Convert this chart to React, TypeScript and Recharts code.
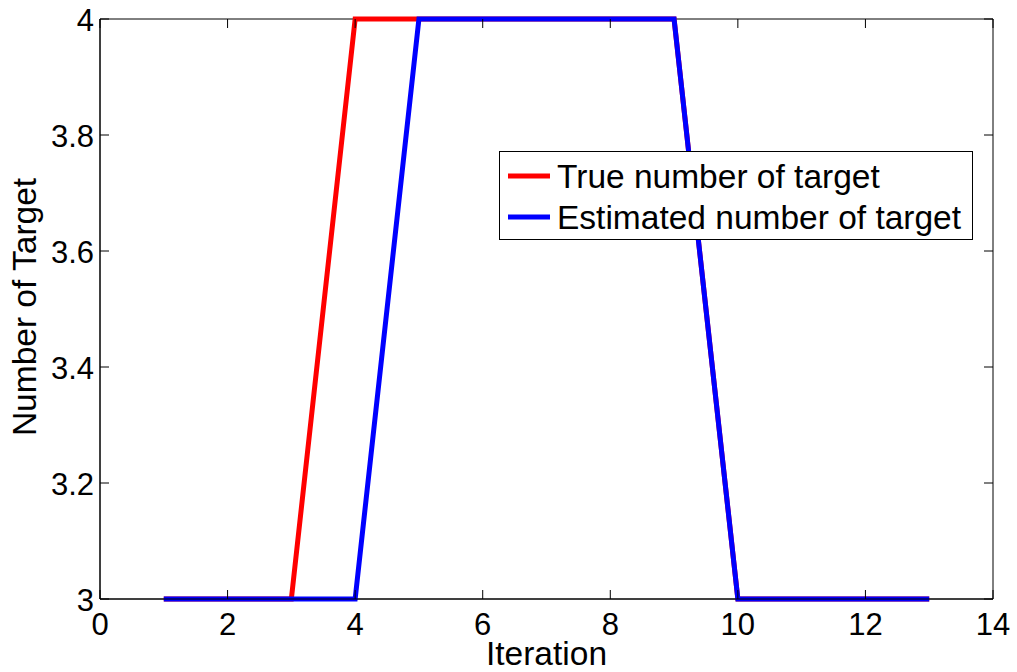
import React from "react";
import {
  Label,
  Line,
  LineChart,
  ReferenceArea,
  XAxis,
  YAxis,
} from "recharts";

const iterations = [1, 2, 3, 4, 5, 6, 7, 8, 9, 10, 11, 12, 13];
const trueCount = [3, 3, 3, 4, 4, 4, 4, 4, 4, 3, 3, 3, 3];
const estimatedCount = [3, 3, 3, 3, 4, 4, 4, 4, 4, 3, 3, 3, 3];

const xTicks = [0, 2, 4, 6, 8, 10, 12, 14];
const yTicks = [3, 3.2, 3.4, 3.6, 3.8, 4];

const seriesNames = ["True number of target", "Estimated number of target"];
const seriesColors = ["#ff0000", "#0000ff"];

const W = 1017;
const H = 672;
const PLOT = { left: 100, top: 19, right: 993, bottom: 599 };
const FONT = "'Liberation Sans', Arial, Helvetica, sans-serif";
const TICK_LEN = 9;
const TICK_FONT = 31;
const TEXT_FONT = 33.5;

const data = iterations.map((x, i) => ({
  x,
  truth: trueCount[i],
  estimated: estimatedCount[i],
}));

// matlab style: ticks point inward on both sides of the box
function XTick(props: any) {
  const { x, payload } = props;
  return (
    <g>
      <line x1={x} x2={x} y1={PLOT.bottom} y2={PLOT.bottom - TICK_LEN} stroke="#000" />
      <line x1={x} x2={x} y1={PLOT.top} y2={PLOT.top + TICK_LEN} stroke="#000" />
      <text
        x={x}
        y={PLOT.bottom + 25}
        textAnchor="middle"
        dominantBaseline="central"
        fontSize={TICK_FONT}
        fontFamily={FONT}
        fill="#000"
      >
        {payload.value}
      </text>
    </g>
  );
}

function YTick(props: any) {
  const { y, payload } = props;
  return (
    <g>
      <line x1={PLOT.left} x2={PLOT.left + TICK_LEN} y1={y} y2={y} stroke="#000" />
      <line x1={PLOT.right} x2={PLOT.right - TICK_LEN} y1={y} y2={y} stroke="#000" />
      <text
        x={PLOT.left - 6}
        y={y + 1}
        textAnchor="end"
        dominantBaseline="central"
        fontSize={TICK_FONT}
        fontFamily={FONT}
        fill="#000"
      >
        {Number(payload.value.toFixed(1)).toString()}
      </text>
    </g>
  );
}

function LegendBox() {
  return (
    <svg
      width={474}
      height={89}
      style={{ position: "absolute", left: 499, top: 151, display: "block" }}
    >
      <rect x={0.5} y={0.5} width={473} height={88} fill="#fff" stroke="#000" />
      {seriesNames.map((name, i) => {
        const cy = 25 + i * 41;
        return (
          <g key={name}>
            <line x1={9} x2={51} y1={cy} y2={cy} stroke={seriesColors[i]} strokeWidth={5} />
            <text
              x={58}
              y={cy}
              dominantBaseline="central"
              fontSize={TEXT_FONT}
              fontFamily={FONT}
              fill="#000"
            >
              {name}
            </text>
          </g>
        );
      })}
    </svg>
  );
}

export default function App() {
  const midY = (PLOT.top + PLOT.bottom) / 2 - 2;
  return (
    <div style={{ position: "absolute", left: 0, top: 0, width: W, height: H, background: "#fff" }}>
      <LineChart
        width={W}
        height={H}
        data={data}
        margin={{ left: 0, top: PLOT.top, right: W - PLOT.right, bottom: 0 }}
      >
        <XAxis
          dataKey="x"
          type="number"
          domain={[0, 14]}
          ticks={xTicks}
          height={H - PLOT.bottom}
          axisLine={{ stroke: "#000" }}
          tickLine={false}
          tick={<XTick />}
          interval={0}
        >
          <Label
            content={() => (
              <text
                x={(PLOT.left + PLOT.right) / 2}
                y={PLOT.bottom + 54}
                textAnchor="middle"
                dominantBaseline="central"
                fontSize={TEXT_FONT}
                fontFamily={FONT}
                fill="#000"
              >
                Iteration
              </text>
            )}
          />
        </XAxis>
        <YAxis
          type="number"
          domain={[3, 4]}
          ticks={yTicks}
          width={PLOT.left}
          axisLine={{ stroke: "#000" }}
          tickLine={false}
          tick={<YTick />}
          interval={0}
        >
          <Label
            content={() => (
              <text
                x={24}
                y={midY}
                transform={`rotate(-90 24 ${midY})`}
                textAnchor="middle"
                dominantBaseline="central"
                fontSize={TEXT_FONT}
                fontFamily={FONT}
                fill="#000"
              >
                Number of Target
              </text>
            )}
          />
        </YAxis>
        <ReferenceArea x1={0} x2={14} y1={3} y2={4} fill="none" stroke="#000" ifOverflow="visible" />
        <Line
          dataKey="truth"
          name={seriesNames[0]}
          type="linear"
          stroke={seriesColors[0]}
          strokeWidth={5}
          dot={false}
          isAnimationActive={false}
        />
        <Line
          dataKey="estimated"
          name={seriesNames[1]}
          type="linear"
          stroke={seriesColors[1]}
          strokeWidth={5}
          dot={false}
          isAnimationActive={false}
        />
      </LineChart>
      <LegendBox />
    </div>
  );
}
